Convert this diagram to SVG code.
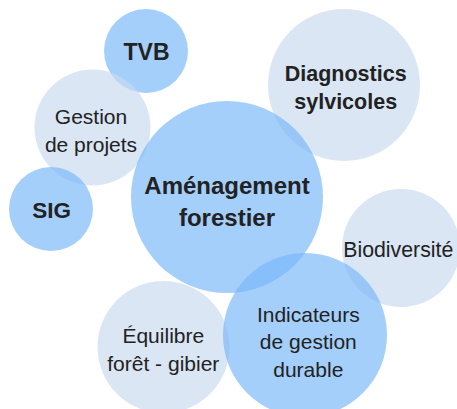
<svg xmlns="http://www.w3.org/2000/svg" width="457" height="409" viewBox="0 0 457 409">
<style>
.m{fill:#77b7f7;fill-opacity:0.67}
.l{fill:#c8daef;fill-opacity:0.67}
text{font-family:"Liberation Sans",Arial,sans-serif;fill:#222;text-anchor:middle}
.b{font-weight:bold}
</style>
<rect width="457" height="409" fill="#fff"/>
<g id="n-tvb"><circle class="m" cx="146" cy="51" r="42"/><text class="b" x="146.5" y="60" font-size="23">TVB</text></g>
<g id="n-gestion"><circle class="l" cx="92.5" cy="127.5" r="58"/><text x="91" y="124.3" font-size="21">Gestion</text><text x="91" y="152" font-size="21">de projets</text></g>
<g id="n-sig"><circle class="m" cx="51" cy="209" r="42"/><text class="b" x="51.7" y="218.3" font-size="22.5">SIG</text></g>
<g id="n-diag"><circle class="l" cx="344" cy="85" r="76"/><text class="b" x="345.7" y="80.7" font-size="21.5">Diagnostics</text><text class="b" x="345.7" y="108.5" font-size="21.5">sylvicoles</text></g>
<g id="n-amen"><circle class="m" cx="227" cy="197" r="96"/><text class="b" x="227" y="194.3" font-size="24">Aménagement</text><text class="b" x="227" y="225.7" font-size="24">forestier</text></g>
<g id="n-bio"><circle class="l" cx="401" cy="248" r="59"/><text x="398.3" y="256.7" font-size="21.3">Biodiversité</text></g>
<g id="n-equi"><circle class="l" cx="163.5" cy="347" r="66"/><text x="163.3" y="343.3" font-size="21">Équilibre</text><text x="163.3" y="371" font-size="21">forêt - gibier</text></g>
<g id="n-indic"><circle class="m" cx="305" cy="335" r="82"/><text x="308.3" y="321.7" font-size="21">Indicateurs</text><text x="308.3" y="349" font-size="21">de gestion</text><text x="308.3" y="376.7" font-size="21">durable</text></g>
<g id="connectors"/>
</svg>
